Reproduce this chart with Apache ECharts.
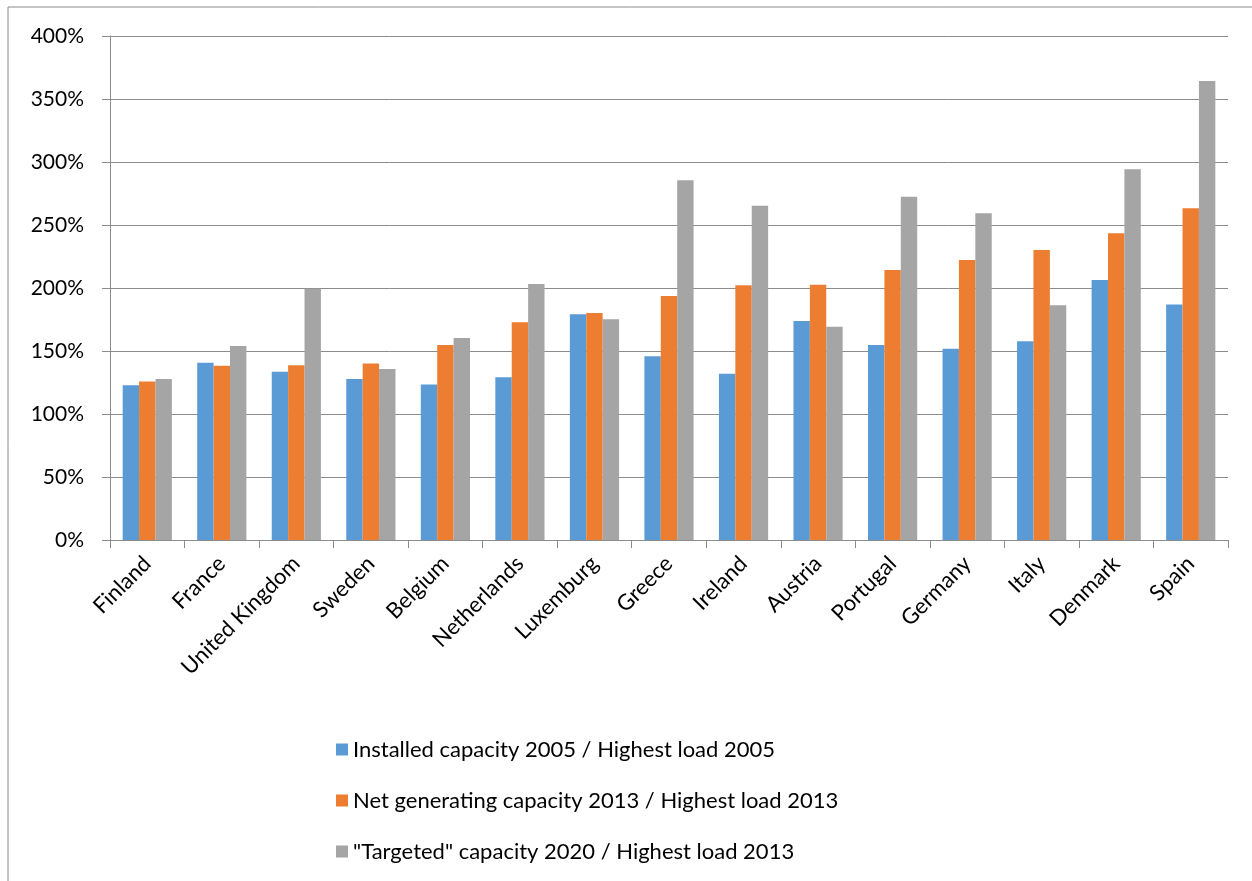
<!DOCTYPE html>
<html>
<head>
<meta charset="utf-8">
<script src="https://cdn.jsdelivr.net/npm/echarts@6/dist/echarts.min.js"></script>
<style>
html,body{margin:0;padding:0;background:#fff;}
#chart{width:1252px;height:881px;}
</style>
</head>
<body>
<div id="chart"></div>
<script>
const categories = ["Finland","France","United Kingdom","Sweden","Belgium","Netherlands","Luxemburg","Greece","Ireland","Austria","Portugal","Germany","Italy","Denmark","Spain"];
const seriesNames = ["Installed capacity 2005 / Highest load 2005","Net generating capacity 2013 / Highest load 2013","\"Targeted\" capacity 2020 / Highest load 2013"];
const installed2005 = [122.8,140.7,133.6,127.8,123.5,129.1,179.1,145.8,132.0,173.8,154.8,151.8,157.7,206.3,187.0];
const net2013 = [125.7,138.3,138.6,140.0,154.8,172.8,180.2,193.7,202.1,202.6,214.3,222.2,230.2,243.4,263.2];
const targeted2020 = [127.8,154.0,199.5,135.7,160.3,203.2,175.2,285.5,265.3,169.3,272.5,259.3,186.3,294.2,364.3];
const yTicks = [0,50,100,150,200,250,300,350,400];
const colors = ["#5B9BD5","#ED7D31","#A5A5A5"];

const font = "Lato, 'Open Sans', sans-serif";
const chart = echarts.init(document.getElementById('chart'), null, {renderer:'canvas'});
const values = [installed2005, net2013, targeted2020];
chart.setOption({
  animation:false,
  backgroundColor:'#fff',
  color: colors,
  graphic:[{type:'rect',shape:{x:8,y:7,width:1400,height:1000},style:{fill:'none',stroke:'#8c8c8c',lineWidth:1},silent:true}],
  grid:{left:110,top:36,right:24,bottom:341,containLabel:false},
  legend:{
    orient:'vertical', left:331, top:731,
    itemWidth:12, itemHeight:12, itemGap:24,
    icon:'rect',
    textStyle:{fontFamily:font,fontSize:22,color:'#000',lineHeight:27},
    data: seriesNames
  },
  xAxis:{
    type:'category', data:categories,
    axisLine:{lineStyle:{color:'#8c8c8c',width:1}},
    axisTick:{show:true,length:8,alignWithLabel:false,lineStyle:{color:'#8c8c8c'}},
    axisLabel:{rotate:45,interval:0,margin:20,fontFamily:font,fontSize:22,color:'#000'}
  },
  yAxis:{
    type:'value', min:yTicks[0], max:yTicks[yTicks.length-1], interval:50,
    axisLine:{show:true,lineStyle:{color:'#8c8c8c',width:1}},
    axisTick:{show:true,length:8,lineStyle:{color:'#8c8c8c'}},
    splitLine:{show:true,lineStyle:{color:'#8c8c8c',width:1}},
    axisLabel:{margin:26,fontFamily:font,fontSize:21,color:'#000',formatter:v=>v+'%'}
  },
  series: seriesNames.map((n,i)=>({
    name:n, type:'bar', data:values[i],
    barGap:'0%', barCategoryGap:'34%',
    itemStyle:{color:colors[i]}
  }))
});
</script>
</body>
</html>
